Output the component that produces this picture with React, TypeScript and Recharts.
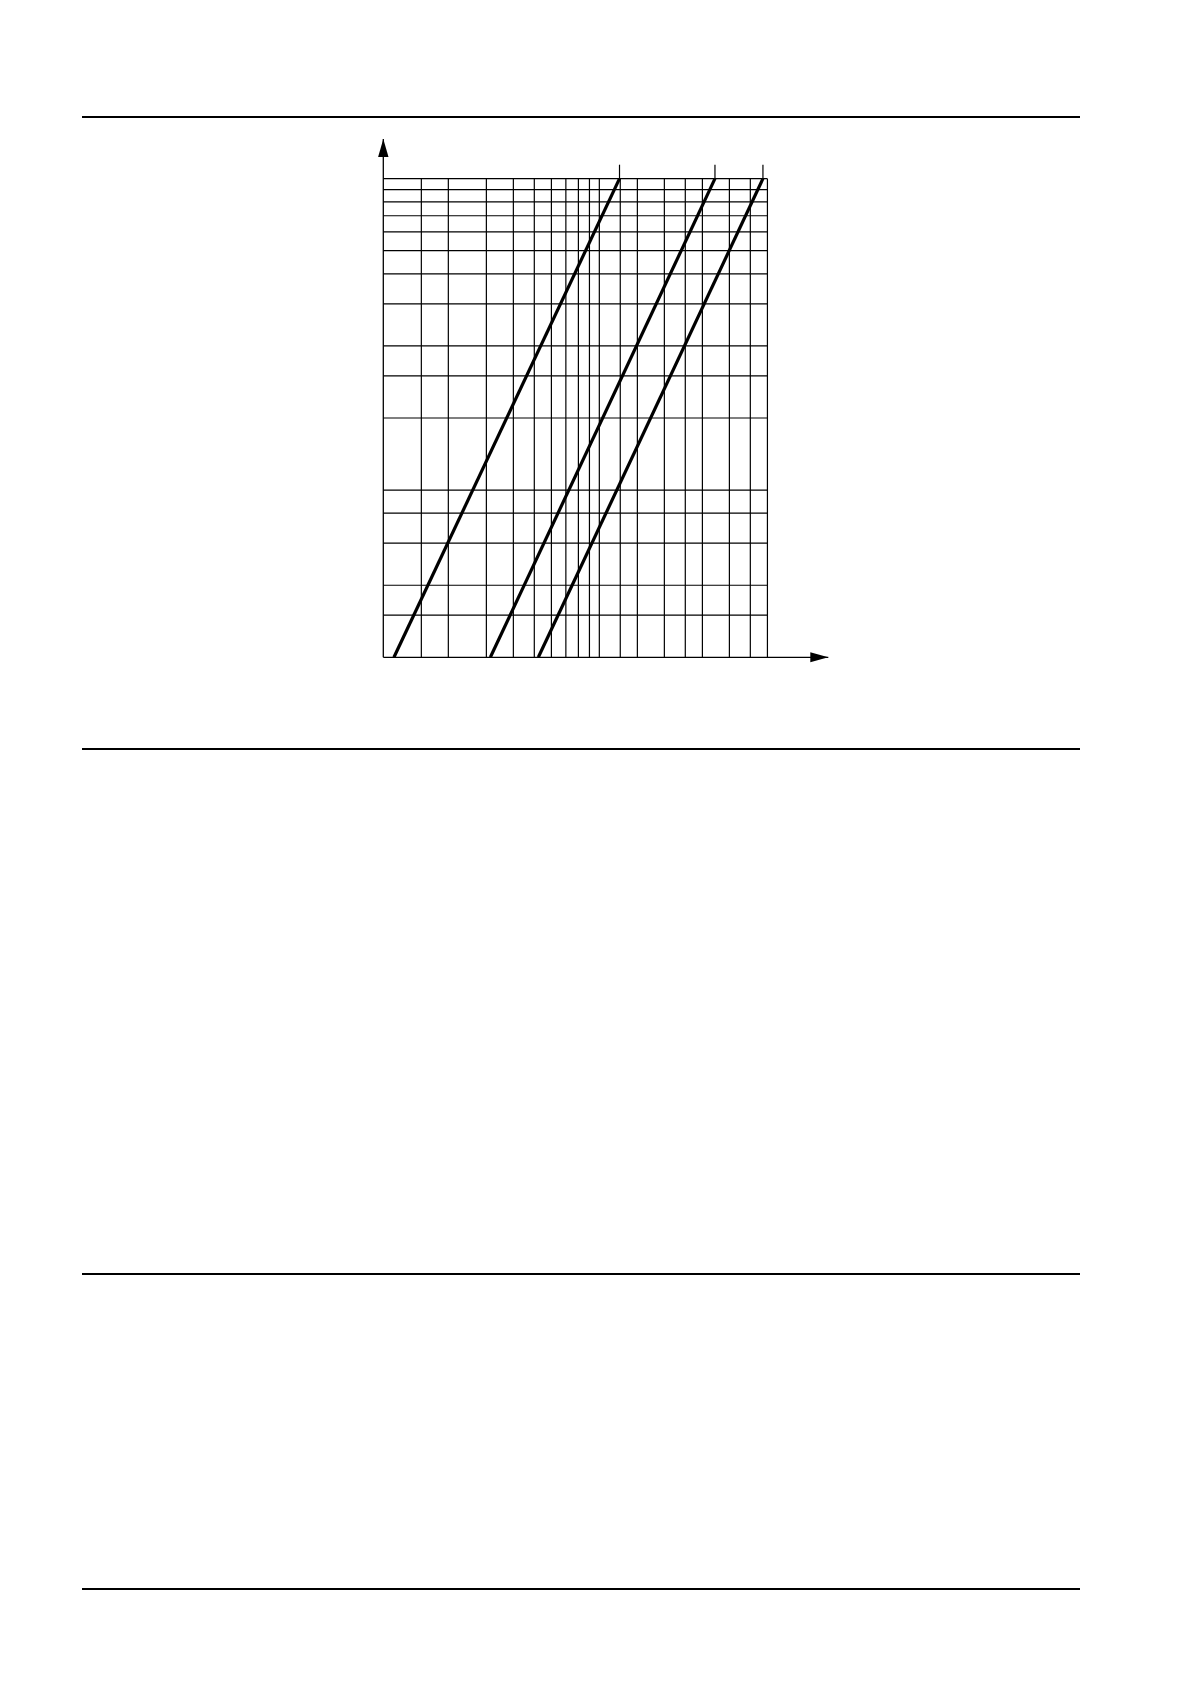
import { Line, LineChart, ReferenceDot, ReferenceLine, XAxis, YAxis } from 'recharts';

// log-log grid, x 1..60, y 1..100
const xGrid = [1.5, 2, 3, 4, 5, 6, 7, 8, 9, 10, 12.5, 15, 20, 25, 30, 40, 50, 60];
const yGrid = [1.5, 2, 3, 4, 5, 10, 15, 20, 30, 40, 50, 60, 70, 80, 90, 100];
const xTicks = [1, 1.5, 2, 3, 4, 5, 6, 10, 12.5, 15, 20, 25, 30, 40, 50, 60];
const yTicks = [1, 1.5, 2, 3, 4, 5, 10, 15, 20, 30, 40, 50, 100];

const curveA = [
  { x: 1.12, y: 1 },
  { x: 12.4, y: 100 },
];
const curveB = [
  { x: 3.13, y: 1 },
  { x: 34.3, y: 100 },
];
const curveC = [
  { x: 5.22, y: 1 },
  { x: 57.2, y: 100 },
];
const endMarks = [12.4, 34.3, 57.2];

const X_MAX = 60;
const Y_MAX = 100;
const X_END = 114.8;
const Y_END = 146.5;
const MARK_TOP = 114.4;

const pageRules = [117, 749, 1274, 1589];

const ArrowRight = (p: any) => (
  <polygon points={`${p.cx},${p.cy} ${p.cx - 18},${p.cy - 5} ${p.cx - 18},${p.cy + 5}`} fill="#000" />
);
const ArrowUp = (p: any) => (
  <polygon points={`${p.cx},${p.cy} ${p.cx - 5.2},${p.cy + 18} ${p.cx + 5.2},${p.cy + 18}`} fill="#000" />
);

const gridStyle = { stroke: '#000', strokeWidth: 1.2 };

export default function App() {
  return (
    <div style={{ position: 'absolute', left: 0, top: 0, width: 1190, height: 1684, background: '#fff' }}>
      {pageRules.map(y => (
        <div
          key={y}
          style={{ position: 'absolute', left: 82, top: y - 0.65, width: 998, height: 1.3, background: '#000' }}
        />
      ))}
      <div style={{ position: 'absolute', left: 0, top: 0 }}>
        <LineChart width={900} height={720} margin={{ top: 139, left: 373.3, right: 71.7, bottom: 52.7 }}>
          <XAxis
            type="number"
            dataKey="x"
            scale="log"
            domain={[1, X_END]}
            allowDataOverflow
            ticks={xTicks}
            interval={0}
            tick={false}
            tickSize={4}
            height={10}
            tickLine={{ stroke: '#000', strokeWidth: 1.2 }}
            axisLine={{ stroke: '#000', strokeWidth: 1.3 }}
          />
          <YAxis
            type="number"
            dataKey="y"
            scale="log"
            domain={[1, Y_END]}
            allowDataOverflow
            ticks={yTicks}
            interval={0}
            tick={false}
            tickSize={4}
            width={10}
            tickLine={{ stroke: '#000', strokeWidth: 1.2 }}
            axisLine={{ stroke: '#000', strokeWidth: 1.3 }}
          />
          {xGrid.map(x => (
            <ReferenceLine
              key={`vx${x}`}
              segment={[
                { x, y: 1 },
                { x, y: Y_MAX },
              ]}
              {...gridStyle}
            />
          ))}
          {yGrid.map(y => (
            <ReferenceLine
              key={`hy${y}`}
              segment={[
                { x: 1, y },
                { x: X_MAX, y },
              ]}
              {...gridStyle}
            />
          ))}
          {endMarks.map(x => (
            <ReferenceLine
              key={`m${x}`}
              segment={[
                { x, y: Y_MAX },
                { x, y: MARK_TOP },
              ]}
              {...gridStyle}
            />
          ))}
          <ReferenceDot x={X_END} y={1} ifOverflow="visible" shape={ArrowRight} />
          <ReferenceDot x={1} y={Y_END} ifOverflow="visible" shape={ArrowUp} />
          {[curveA, curveB, curveC].map((d, i) => (
            <Line
              key={i}
              data={d}
              dataKey="y"
              type="linear"
              stroke="#000"
              strokeWidth={3.2}
              dot={false}
              activeDot={false}
              isAnimationActive={false}
            />
          ))}
        </LineChart>
      </div>
    </div>
  );
}
